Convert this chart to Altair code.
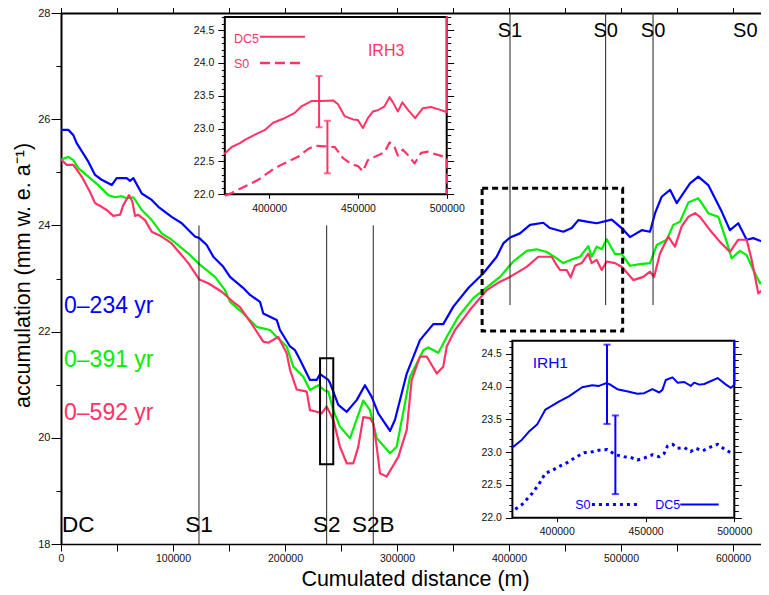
import altair as alt
import pandas as pd

# ---------------- data ----------------
# main profiles: (cumulated distance m, accumulation mm w.e./a)
blue_234 = [(0, 25.80), (6500, 25.80), (11000, 25.70), (14000, 25.55), (24400, 25.20), (30400, 24.95),
            (36300, 24.86), (45300, 24.76), (49700, 24.89), (58700, 24.89), (61600, 24.84), (64600, 24.89),
            (72100, 24.60), (81000, 24.48), (86900, 24.35), (98800, 24.16), (107800, 24.04), (119600, 23.79),
            (123500, 23.76), (130100, 23.63), (136000, 23.41), (144900, 23.22), (150900, 23.03), (162800, 22.82),
            (168800, 22.69), (177700, 22.56), (180600, 22.34), (192600, 22.22), (195500, 22.03), (204500, 21.72),
            (208900, 21.65), (213400, 21.47), (222300, 21.09), (228300, 21.09), (231300, 21.20), (238700, 21.09),
            (240200, 21.03), (247600, 20.62), (255100, 20.49), (264000, 20.71), (271400, 20.99), (277400, 20.77),
            (283300, 20.46), (293800, 20.13), (298200, 20.34), (308700, 21.21), (320500, 21.84), (332400, 22.14),
            (341300, 22.14), (350300, 22.47), (363700, 22.82), (377100, 23.10), (389000, 23.41), (394900, 23.66),
            (400900, 23.77), (409800, 23.85), (418800, 24.01), (430600, 24.05), (436600, 23.95), (448500, 23.88),
            (456000, 23.95), (461900, 24.10), (469400, 24.07), (478300, 24.04), (491700, 24.11), (500600, 23.95),
            (508000, 23.78), (518500, 23.91), (525900, 23.88), (530400, 24.23), (536300, 24.54), (543800, 24.67),
            (549700, 24.42), (561600, 24.79), (569000, 24.92), (577900, 24.76), (589900, 24.26), (597300, 23.91),
            (604700, 24.04), (612200, 23.73), (618100, 23.76), (631500, 23.65)]
green_391 = [(0, 25.24), (6500, 25.29), (11000, 25.23), (15400, 25.08), (24400, 24.92), (33300, 24.76),
             (42200, 24.57), (48200, 24.53), (54200, 24.55), (58700, 24.51), (64600, 24.53), (72100, 24.29),
             (81000, 24.10), (89900, 23.85), (98800, 23.73), (113700, 23.47), (123500, 23.27), (137500, 23.03),
             (146400, 22.78), (150900, 22.56), (162800, 22.34), (174700, 22.09), (186600, 22.03), (192600, 21.90),
             (201500, 21.72), (207400, 21.34), (216300, 21.15), (222300, 20.90), (229700, 20.99), (235700, 20.89),
             (238700, 20.87), (243100, 20.52), (249100, 20.21), (258000, 19.99), (269900, 20.70), (275900, 20.52),
             (281900, 19.99), (293800, 19.71), (299700, 19.83), (311600, 21.15), (323500, 21.65), (327900, 21.70),
             (336900, 21.60), (344400, 21.90), (354700, 22.28), (368100, 22.63), (377100, 22.78), (392000, 23.03),
             (403800, 23.32), (415800, 23.52), (424700, 23.55), (433700, 23.50), (442600, 23.38), (448500, 23.29),
             (456000, 23.36), (463400, 23.41), (470800, 23.61), (473800, 23.41), (478300, 23.60), (482800, 23.55),
             (487200, 23.74), (494600, 23.46), (500600, 23.46), (508000, 23.24), (516900, 23.27), (525900, 23.29),
             (531900, 23.63), (540800, 23.73), (546700, 24.01), (552700, 24.07), (560100, 24.43), (569000, 24.51),
             (572100, 24.42), (577900, 24.23), (586900, 24.16), (594400, 23.69), (598800, 23.38), (606200, 23.52),
             (612200, 23.44), (618100, 23.16), (624100, 22.91), (631500, 23.03)]
red_592 = [(0, 25.24), (5100, 25.14), (11000, 25.14), (18500, 24.92), (25900, 24.63), (30400, 24.42),
           (36300, 24.35), (40800, 24.29), (46700, 24.18), (52700, 24.20), (55600, 24.38), (60700, 24.57),
           (63700, 24.45), (66100, 24.18), (69000, 24.20), (75000, 24.10), (81000, 23.88), (89900, 23.79),
           (98800, 23.66), (113700, 23.29), (123500, 22.98), (131500, 22.91), (143500, 22.75), (155400, 22.53),
           (159800, 22.46), (168800, 22.19), (180600, 21.81), (185100, 21.79), (194000, 21.90), (201500, 21.59),
           (204500, 21.28), (210400, 20.91), (219400, 20.87), (222300, 20.52), (228300, 20.49), (232800, 20.46),
           (237200, 20.59), (243100, 20.34), (249100, 19.83), (255100, 19.52), (261000, 19.52), (265400, 19.83),
           (269900, 20.39), (275900, 20.37), (278800, 20.27), (281900, 19.83), (284800, 19.33), (290800, 19.27),
           (301200, 19.64), (308700, 20.15), (313100, 21.09), (320500, 21.53), (326500, 21.53), (335500, 21.21),
           (341300, 21.34), (344400, 21.72), (351800, 22.03), (365200, 22.41), (380100, 22.78), (392000, 22.94),
           (400900, 23.03), (415800, 23.22), (426200, 23.41), (438100, 23.41), (442600, 23.25), (445500, 23.16),
           (451500, 23.16), (455100, 23.02), (458900, 23.24), (464900, 23.29), (470800, 23.47), (473800, 23.29),
           (478300, 23.35), (482800, 23.16), (487200, 23.32), (494600, 23.29), (500600, 23.22), (511000, 22.97),
           (519900, 23.03), (525900, 23.13), (529500, 23.03), (534800, 23.47), (542200, 23.79), (548200, 23.60),
           (554200, 23.98), (560100, 24.16), (566100, 24.23), (570500, 24.16), (579500, 23.91), (588400, 23.69),
           (597300, 23.50), (604700, 23.73), (612200, 23.73), (616700, 23.35), (622600, 22.72), (631500, 22.88)]
series_names = ["0\u2013234 yr", "0\u2013391 yr", "0\u2013592 yr"]
series_label_y = [22.35, 21.34, 20.34]

# IRH3 inset (red)
irh3_dc5 = [(375000, 22.62), (378900, 22.72), (383500, 22.78), (386300, 22.83), (392000, 22.91), (397600, 22.98),
            (402200, 23.09), (407900, 23.15), (414400, 23.24), (418200, 23.34), (423800, 23.42), (429400, 23.42),
            (436000, 23.43), (438800, 23.37), (442500, 23.19), (447200, 23.14), (450000, 23.13), (452800, 23.01),
            (455600, 23.16), (458400, 23.26), (461200, 23.28), (465000, 23.34), (467800, 23.48), (469700, 23.40),
            (472500, 23.26), (475000, 23.40), (478100, 23.29), (482200, 23.16), (486500, 23.31), (491200, 23.33),
            (495900, 23.29), (499100, 23.26), (500000, 23.25), (500000, 24.70)]
irh3_s0 = [(375000, 21.98), (378900, 22.02), (386300, 22.12), (393800, 22.22), (403200, 22.40), (410700, 22.50),
           (416300, 22.57), (421900, 22.69), (425700, 22.74), (431300, 22.73), (436900, 22.72), (441600, 22.55),
           (446300, 22.46), (450000, 22.43), (452800, 22.35), (455600, 22.52), (459400, 22.57), (465000, 22.64),
           (467800, 22.79), (470600, 22.72), (472500, 22.59), (475300, 22.68), (478100, 22.60), (481900, 22.47),
           (485600, 22.63), (489300, 22.65), (495000, 22.60), (498700, 22.57), (500000, 22.56), (500000, 22.00)]
irh3_err_x = [428100, 432800]
irh3_err_lo = [23.02, 22.32]
irh3_err_hi = [23.80, 23.12]

# IRH1 inset (blue)
irh1_dc5 = [(375000, 23.07), (380400, 23.19), (384200, 23.31), (388900, 23.42), (393600, 23.65), (401200, 23.77),
            (406800, 23.85), (414300, 23.99), (420000, 24.02), (423800, 24.01), (427500, 24.05), (429400, 24.04),
            (434100, 23.96), (440700, 23.92), (445400, 23.89), (449200, 23.90), (453900, 23.96), (457700, 23.91),
            (459500, 23.95), (461400, 24.10), (465200, 24.14), (468000, 24.06), (471800, 24.07), (475500, 24.01),
            (477400, 24.06), (480300, 24.03), (483100, 24.04), (490600, 24.13), (495300, 24.03), (498100, 23.98),
            (500000, 24.03), (500000, 24.70)]
irh1_s0 = [(376600, 22.13), (380400, 22.20), (386100, 22.37), (389900, 22.51), (393600, 22.68), (397400, 22.72),
           (401200, 22.78), (405800, 22.84), (410500, 22.92), (415300, 22.99), (419000, 23.00), (423800, 23.03),
           (428400, 23.04), (433100, 22.96), (437900, 22.93), (441600, 22.92), (445400, 22.88), (449200, 22.91),
           (453900, 22.96), (457700, 22.93), (460500, 22.98), (462300, 23.09), (465200, 23.12), (468000, 23.06),
           (471800, 23.07), (475500, 23.01), (478300, 23.06), (482100, 23.02), (485900, 23.07), (490600, 23.12),
           (495300, 23.03), (499100, 22.98)]
irh1_err_x = [428300, 433000]
irh1_err_lo = [23.43, 22.36]
irh1_err_hi = [24.64, 23.56]

# site markers
lower_sites = ["S1", "S2", "S2B"]
lower_sites_x = [123200, 237200, 278800]
upper_sites = ["S1", "S0", "S0"]
upper_sites_x = [400900, 486300, 528600]
upper_labels = ["S1", "S0", "S0", "S0"]
upper_labels_x = [400900, 486300, 528600, 611000]

# ---------------- styling / layout ----------------
FONT = "Liberation Sans"
W, H = 700, 531
BLUE, GREEN, RED = "#0000ff", "#00ee00", "#ff3366"

MX = alt.Scale(domain=[0, 625000], range=[0, W], nice=False, zero=False)
MY = alt.Scale(domain=[18, 28], range=[H, 0], nice=False, zero=False)
# insets placed inside the main plot area through their own scale ranges
I1 = dict(x0=163.8, x1=385.7, y0=181.3, y1=4.0)
I2 = dict(x0=451.4, x1=673.3, y0=504.7, y1=327.7)


def iscales(b):
    return (alt.Scale(domain=[375000, 500000], range=[b["x0"], b["x1"]], nice=False, zero=False),
            alt.Scale(domain=[22.0, 24.7], range=[b["y0"], b["y1"]], nice=False, zero=False))


def df_of(pairs):
    return pd.DataFrame({"i": list(range(len(pairs))),
                         "x": [p[0] for p in pairs], "y": [p[1] for p in pairs]})


def line(df, xs, ys, color, width, xaxis=None, yaxis=None, clip=False, dash=None, cap="round"):
    props = dict(color=color, strokeWidth=width, clip=clip, strokeCap=cap, strokeJoin="round")
    if dash is not None:
        props["strokeDash"] = dash
    return alt.Chart(df).mark_line(**props).encode(
        x=alt.X("x:Q", scale=xs, axis=xaxis),
        y=alt.Y("y:Q", scale=ys, axis=yaxis),
        order=alt.Order("i:Q"))


def texts(df, xs, ys, color, size, align="center"):
    return alt.Chart(df).mark_text(font=FONT, fontSize=size, color=color, align=align,
                                   baseline="alphabetic").encode(
        x=alt.X("x:Q", scale=xs, axis=None),
        y=alt.Y("y:Q", scale=ys, axis=None),
        text="t:N")


layers = []

# ---- main axes ----
ax_bottom = alt.Axis(orient="bottom", values=list(range(0, 600001, 50000)), format="d",
                     labelExpr="datum.value % 100000 === 0 ? datum.label : ''",
                     tickSize=7, labelPadding=2, labelFontSize=10.5, labelFlush=False,
                     domainWidth=1.5, title="Cumulated distance (m)", titleFontSize=21.5,
                     titleFontWeight="normal", titleX=354, titleY=41, titleBaseline="alphabetic")
ax_left = alt.Axis(orient="left", values=[18, 20, 22, 24, 26, 28], tickSize=10, labelPadding=1,
                   labelFontSize=11, domainWidth=2,
                   title="accumulation (mm w. e. a\u207b\u00b9)", titleFontSize=21.5,
                   titleFontWeight="normal", titleAngle=270, titleX=-31.5, titleY=262,
                   titleBaseline="alphabetic", titleAlign="center")
ax_top = alt.Axis(orient="top", values=list(range(0, 600001, 50000)), tickSize=8, labels=False,
                  domainWidth=2, title=None)
ax_left_minor = alt.Axis(orient="left", values=[19, 21, 23, 25, 27], tickSize=5, labels=False,
                         domain=False, title=None)

layers.append(line(df_of(blue_234), MX, MY, BLUE, 2.2, xaxis=ax_bottom, yaxis=ax_left, clip=True))
layers.append(line(df_of(green_391), MX, MY, GREEN, 2.2, xaxis=ax_top, yaxis=ax_left_minor, clip=True))
layers.append(line(df_of(red_592), MX, MY, RED, 2.2, clip=True))

# vertical site lines
low_df = pd.DataFrame({"x": lower_sites_x, "y": [18.0] * 3, "y2": [24.0] * 3})
up_df = pd.DataFrame({"x": upper_sites_x, "y": [22.5] * 3, "y2": [28.0] * 3})
for d in (low_df, up_df):
    layers.append(alt.Chart(d).mark_rule(color="#222222", strokeWidth=1).encode(
        x=alt.X("x:Q", scale=MX, axis=None), y=alt.Y("y:Q", scale=MY, axis=None), y2="y2:Q"))

# site labels
layers.append(texts(pd.DataFrame({"t": lower_sites, "x": lower_sites_x, "y": [18.23] * 3}),
                    MX, MY, "black", 22.5))
layers.append(texts(pd.DataFrame({"t": ["DC"], "x": [900], "y": [18.23]}), MX, MY, "black", 22.5,
                    align="left"))
layers.append(texts(pd.DataFrame({"t": upper_labels, "x": upper_labels_x, "y": [27.55] * 4}),
                    MX, MY, "black", 20))

# series labels
for name, yv, col in zip(series_names, series_label_y, [BLUE, GREEN, RED]):
    layers.append(texts(pd.DataFrame({"t": [name], "x": [2700], "y": [yv]}), MX, MY, col, 23,
                        align="left"))

# boxes
box_s2 = pd.DataFrame({"x": [231300], "x2": [243100], "y": [19.50], "y2": [21.50]})
layers.append(alt.Chart(box_s2).mark_rect(fillOpacity=0, stroke="black", strokeWidth=2).encode(
    x=alt.X("x:Q", scale=MX, axis=None), x2="x2:Q", y=alt.Y("y:Q", scale=MY, axis=None), y2="y2:Q"))
box_zoom = pd.DataFrame({"x": [376000], "x2": [501500], "y": [22.01], "y2": [24.70]})
layers.append(alt.Chart(box_zoom).mark_rect(fillOpacity=0, stroke="black", strokeWidth=3,
                                            strokeDash=[6, 4]).encode(
    x=alt.X("x:Q", scale=MX, axis=None), x2="x2:Q", y=alt.Y("y:Q", scale=MY, axis=None), y2="y2:Q"))


# ---- insets ----
def inset(b, color, dc5, s0, s0_dash, s0_width, s0_cap, ex, elo, ehi, txt, leg_lines):
    xs, ys = iscales(b)
    out = []
    ax_x = alt.Axis(orient="bottom", offset=-(H - b["y0"]), values=[400000, 450000, 500000], format="d",
                    tickSize=4, labelPadding=5, labelFontSize=10.5, labelFlush=False, domain=False,
                    title=None)
    ax_l = alt.Axis(orient="left", offset=-b["x0"], values=[22.0, 22.5, 23.0, 23.5, 24.0, 24.5],
                    format=".1f", tickSize=7, labelPadding=4, labelFontSize=10.5, domain=False,
                    title=None)
    minor = [round(22.0 + 0.1 * k, 1) for k in range(28) if k % 5 != 0]
    ax_lm = alt.Axis(orient="left", offset=-b["x0"], values=minor, tickSize=3.5, labels=False,
                     domain=False, title=None)
    ax_r = alt.Axis(orient="right", offset=-(W - b["x1"]), values=[22.0, 22.5, 23.0, 23.5, 24.0, 24.5],
                    tickSize=7, labels=False, domain=False, title=None)
    ax_rm = alt.Axis(orient="right", offset=-(W - b["x1"]), values=minor, tickSize=4, labels=False,
                     domain=False, title=None)
    frame = pd.DataFrame({"x": [375000], "x2": [500000], "y": [22.0], "y2": [24.7]})
    out.append(alt.Chart(frame).mark_rect(fill="white", stroke="black", strokeWidth=2).encode(
        x=alt.X("x:Q", scale=xs, axis=ax_x), x2="x2:Q", y=alt.Y("y:Q", scale=ys, axis=ax_l), y2="y2:Q"))
    out.append(line(df_of(dc5), xs, ys, color, 2.0, yaxis=ax_lm))
    out.append(line(df_of(s0), xs, ys, color, s0_width, yaxis=ax_r, dash=s0_dash, cap=s0_cap))
    err = pd.DataFrame({"x": ex, "lo": elo, "hi": ehi})
    out.append(alt.Chart(err).mark_rule(color=color, strokeWidth=2).encode(
        x=alt.X("x:Q", scale=xs, axis=None), y=alt.Y("lo:Q", scale=ys, axis=ax_rm), y2="hi:Q"))
    caps = pd.DataFrame({"x": ex + ex, "y": elo + ehi})
    out.append(alt.Chart(caps).mark_tick(color=color, orient="horizontal", size=7, thickness=2).encode(
        x=alt.X("x:Q", scale=xs, axis=None), y=alt.Y("y:Q", scale=ys, axis=None)))
    for t, x, y, size in txt:
        out.append(texts(pd.DataFrame({"t": [t], "x": [x], "y": [y]}), xs, ys, color, size, align="left"))
    for pts, dash, width, cap in leg_lines:
        out.append(line(df_of(pts), xs, ys, color, width, dash=dash, cap=cap))
    return out


layers += inset(I1, RED, irh3_dc5, irh3_s0, [10, 5], 2.2, "butt", irh3_err_x, irh3_err_lo, irh3_err_hi,
                [("DC5", 380200, 24.31, 12.5), ("S0", 380200, 23.92, 12.5), ("IRH3", 455600, 24.11, 16)],
                [([(394800, 24.40), (420200, 24.40)], None, 2.0, "butt"),
                 ([(394800, 24.00), (419200, 24.00)], [10, 5], 2.6, "butt")])
layers += inset(I2, BLUE, irh1_dc5, irh1_s0, [3, 4], 3.0, "butt", irh1_err_x, irh1_err_lo, irh1_err_hi,
                [("IRH1", 386400, 24.29, 15.5), ("S0", 410400, 22.14, 12.5), ("DC5", 455500, 22.14, 12.5)],
                [([(419800, 22.20), (446100, 22.20)], [3, 4], 3.0, "butt"),
                 ([(469600, 22.20), (491200, 22.20)], None, 2.0, "butt")])

chart = alt.layer(*layers).resolve_scale(x="independent", y="independent").resolve_axis(
    x="independent", y="independent").properties(
    width=W, height=H, autosize=alt.AutoSizeParams(type="none"),
    padding={"left": 53, "top": 5, "right": 0, "bottom": 49}, background="white"
).configure_view(stroke=None).configure_axis(
    grid=False, labelFont=FONT, titleFont=FONT, labelColor="#111111", titleColor="black",
    tickColor="black", domainColor="black", tickWidth=1)

chart.save("out.html", embed_options={"renderer": "svg", "actions": False})
